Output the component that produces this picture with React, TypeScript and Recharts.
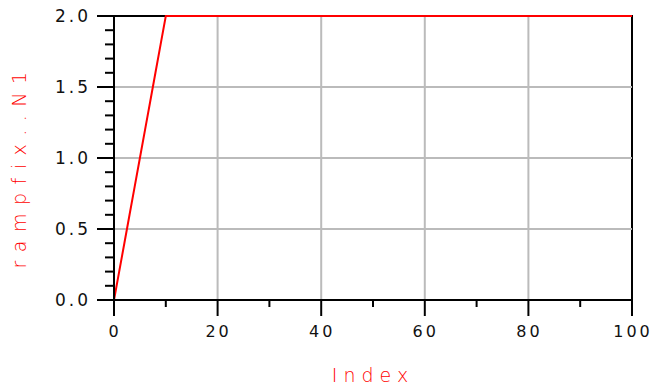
import React from "react";
import {
  LineChart,
  Line,
  XAxis,
  YAxis,
  ReferenceLine,
  ReferenceArea,
} from "recharts";

const indexValues = [0, 1, 2, 3, 4, 5, 6, 7, 8, 9, 10, 100];
const rampValues = [0, 0.2, 0.4, 0.6, 0.8, 1.0, 1.2, 1.4, 1.6, 1.8, 2.0, 2.0];
const xTicks = [0, 10, 20, 30, 40, 50, 60, 70, 80, 90, 100];
const xMajor = [0, 20, 40, 60, 80, 100];
const yTicks = [0, 0.1, 0.2, 0.3, 0.4, 0.5, 0.6, 0.7, 0.8, 0.9, 1.0, 1.1, 1.2, 1.3, 1.4, 1.5, 1.6, 1.7, 1.8, 1.9, 2.0];
const yMajor = [0, 0.5, 1.0, 1.5, 2.0];
const xGrid = [20, 40, 60, 80];
const yGrid = [0.5, 1.0, 1.5];

const data = indexValues.map((x, i) => ({ x, y: rampValues[i] }));

const FONT = "'DejaVu Sans', sans-serif";
const near = (a: number, b: number) => Math.abs(a - b) < 1e-6;

const XTick = (props: any) => {
  const { x, y, payload } = props;
  const v = payload.value;
  const major = xMajor.some((m) => near(m, v));
  return (
    <g>
      <line x1={x} x2={x} y1={y} y2={y + (major ? 16 : 7)} stroke="#000" strokeWidth={2} />
      {major && (
        <text
          x={x + 1}
          y={y + 37}
          textAnchor="middle"
          fontFamily={FONT}
          fontSize={16}
          letterSpacing={3}
          fill="#111"
        >
          {String(v)}
        </text>
      )}
    </g>
  );
};

const YTick = (props: any) => {
  const { x, y, payload } = props;
  const v = payload.value;
  const major = yMajor.some((m) => near(m, v));
  return (
    <g>
      <line x1={x - (major ? 17 : 9)} x2={x} y1={y} y2={y} stroke="#000" strokeWidth={2} />
      {major && (
        <text
          x={x - 23}
          y={y + 6}
          textAnchor="end"
          fontFamily={FONT}
          fontSize={17}
          letterSpacing={3}
          fill="#111"
        >
          {v.toFixed(1)}
        </text>
      )}
    </g>
  );
};

const YLabel = (props: any) => {
  const vb = props.viewBox || {};
  const cx = 26;
  const cy = (vb.y ?? 16) + (vb.height ?? 284) / 2 + 8;
  return (
    <text
      x={cx}
      y={cy}
      transform={`rotate(-90, ${cx}, ${cy})`}
      textAnchor="middle"
      fontFamily={FONT}
      fontSize={19}
      fontWeight={300}
      letterSpacing={8.5}
      fill="#ff0000"
    >
      rampfix..N1
    </text>
  );
};

const XLabel = (props: any) => {
  const vb = props.viewBox || {};
  const cx = (vb.x ?? 114) + (vb.width ?? 518) / 2;
  return (
    <text
      x={cx}
      y={382}
      textAnchor="middle"
      fontFamily={FONT}
      fontSize={19}
      fontWeight={300}
      letterSpacing={6}
      fill="#ff0000"
    >
      Index
    </text>
  );
};

export default function App() {
  return (
    <div style={{ position: "absolute", left: 0, top: 0, width: 653, height: 385, background: "#fff" }}>
      <LineChart width={653} height={385} data={data} margin={{ top: 16, right: 21, bottom: 0, left: 0 }}>
        <XAxis
          dataKey="x"
          type="number"
          domain={[0, 100]}
          ticks={xTicks}
          interval={0}
          height={85}
          tickSize={0}
          tickMargin={0}
          tickLine={false}
          axisLine={{ stroke: "#000", strokeWidth: 2 }}
          tick={<XTick />}
          label={<XLabel />}
        />
        <YAxis
          type="number"
          domain={[0, 2]}
          ticks={yTicks}
          interval={0}
          width={114}
          tickSize={0}
          tickMargin={0}
          tickLine={false}
          axisLine={{ stroke: "#000", strokeWidth: 2 }}
          tick={<YTick />}
          label={<YLabel />}
        />
        {xGrid.map((g) => (
          <ReferenceLine key={"xg" + g} x={g} stroke="#bbbbbb" strokeWidth={2} />
        ))}
        {yGrid.map((g) => (
          <ReferenceLine key={"yg" + g} y={g} stroke="#bbbbbb" strokeWidth={2} />
        ))}
        <ReferenceArea x1={0} x2={100} y1={0} y2={2} fill="none" stroke="#000" strokeWidth={2} fillOpacity={0} />
        <Line
          dataKey="y"
          stroke="#ff0000"
          strokeWidth={2}
          dot={false}
          activeDot={false}
          isAnimationActive={false}
        />
      </LineChart>
    </div>
  );
}
